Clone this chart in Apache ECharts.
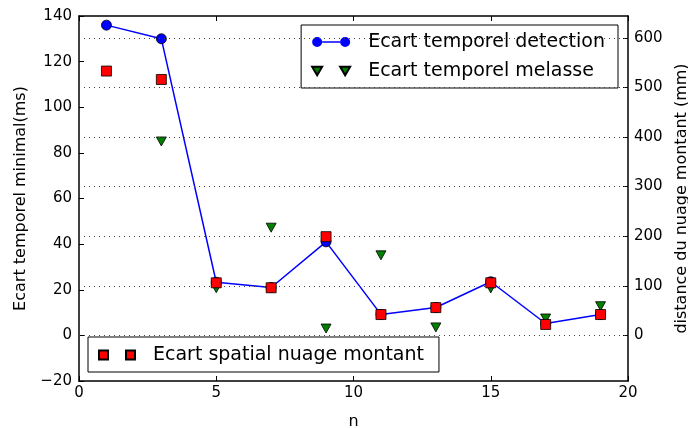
<!DOCTYPE html>
<html>
<head>
<meta charset="utf-8">
<script src="https://cdn.jsdelivr.net/npm/echarts@6/dist/echarts.min.js"></script>
<style>
  html, body { margin: 0; padding: 0; background: #fff; }
  #chart { width: 688px; height: 428px; }
</style>
</head>
<body>
<div id="chart"></div>
<script>
// data
const nValues = [1, 3, 5, 7, 9, 11, 13, 15, 17, 19];
const detection = [136, 130, 23.3, 21, 41, 9.2, 12.2, 23.5, 5.2, 9.2];     // ms
const melasse = [null, 85, 20.7, 47.2, 3, 35.1, 3.5, 20.6, 7.4, 12.8];     // ms
const spatial = [533, 516, 106, 96, 199, 42, 56, 106, 22, 42];             // mm
const xTicks = [0, 5, 10, 15, 20];
const leftTicks = [-20, 0, 20, 40, 60, 80, 100, 120, 140];
const rightTicks = [0, 100, 200, 300, 400, 500, 600];

const font = 'DejaVu Sans';
const minus = v => String(v).replace('-', '\u2212');
const pairs = vals => nValues.map((n, i) => [n, vals[i]]);

const chart = echarts.init(document.getElementById('chart'));

const option = {
    animation: false,
    backgroundColor: '#fff',
    textStyle: { fontFamily: font, color: '#000' },
    grid: { left: 79, right: 60, top: 16, bottom: 47, outerBoundsMode: 'none', containLabel: false },
    xAxis: [
        {
            type: 'value', min: xTicks[0], max: xTicks[xTicks.length - 1], interval: 5,
            name: 'n', nameLocation: 'middle', nameGap: 33,
            nameTextStyle: { fontSize: 16, fontFamily: font, color: '#000' },
            axisLine: { onZero: false, lineStyle: { color: '#000', width: 1.5 } },
            axisTick: { inside: true, length: 5, lineStyle: { color: '#000' } },
            axisLabel: { fontSize: 15, fontFamily: font, color: '#000', margin: 5, formatter: minus },
            splitLine: { show: false }
        },
        {
            type: 'value', position: 'top', min: 0, max: 20, interval: 5,
            axisLine: { onZero: false, lineStyle: { color: '#000', width: 1.5 } },
            axisTick: { inside: true, length: 5, lineStyle: { color: '#000' } },
            axisLabel: { show: false },
            splitLine: { show: false }
        }
    ],
    yAxis: [
        {
            type: 'value', min: leftTicks[0], max: leftTicks[leftTicks.length - 1], interval: 20,
            name: 'Ecart temporel minimal(ms)', nameLocation: 'middle', nameGap: 50, nameRotate: 90,
            nameTextStyle: { fontSize: 16, fontFamily: font, color: '#000' },
            axisLine: { onZero: false, lineStyle: { color: '#000', width: 1.5 } },
            axisTick: { inside: true, length: 5, lineStyle: { color: '#000' } },
            axisLabel: { fontSize: 15, fontFamily: font, color: '#000', margin: 7, formatter: minus },
            splitLine: { show: false }
        },
        {
            type: 'value', position: 'right', min: -92, max: 644,
            name: 'distance du nuage montant (mm)', nameLocation: 'middle', nameGap: 44, nameRotate: 90,
            nameTextStyle: { fontSize: 16, fontFamily: font, color: '#000' },
            axisLine: { onZero: false, lineStyle: { color: '#000', width: 1.5 } },
            axisTick: { inside: true, length: 5, lineStyle: { color: '#000' }, customValues: rightTicks },
            axisLabel: {
                fontSize: 15, fontFamily: font, color: '#000', margin: 6,
                customValues: rightTicks, formatter: minus
            },
            splitLine: { show: false }
        }
    ],
    legend: [
        {
            data: [
                {
                    name: 'Ecart temporel detection',
                    icon: 'path://M0,5a5,5 0 1,0 10,0a5,5 0 1,0 -10,0ZM10,4.3L28,4.3L28,5.7L10,5.7ZM28,5a5,5 0 1,0 10,0a5,5 0 1,0 -10,0Z',
                    itemStyle: { borderWidth: 0 }
                },
                { name: 'Ecart temporel melasse', icon: 'path://M0,0L10,0L5,8.5ZM28,0L38,0L33,8.5Z' }
            ],
            orient: 'vertical', right: 70, top: 25,
            backgroundColor: '#fff', borderColor: '#000', borderWidth: 1,
            padding: [6, 13, 6, 10], itemGap: 7,
            itemWidth: 38, itemHeight: 10,
            textStyle: { fontSize: 19, fontFamily: font, color: '#000', lineHeight: 22, padding: [0, 0, 0, 13] }
        },
        {
            data: [
                { name: 'Ecart spatial nuage montant', icon: 'path://M0,0L9,0L9,9L0,9ZM27,0L36,0L36,9L27,9Z' }
            ],
            orient: 'vertical', left: 88, top: 337,
            backgroundColor: '#fff', borderColor: '#000', borderWidth: 1,
            padding: [7, 15, 6, 10],
            itemWidth: 36, itemHeight: 9,
            textStyle: { fontSize: 19, fontFamily: font, color: '#000', lineHeight: 22, padding: [0, 0, 0, 13] }
        }
    ],
    series: [
        {
            // dotted grid lines follow the right-hand axis ticks
            name: 'grid', type: 'line', xAxisIndex: 0, yAxisIndex: 1, data: [],
            silent: true, z: 1,
            markLine: {
                silent: true, symbol: ['none', 'none'], label: { show: false },
                lineStyle: { color: '#444', width: 1, type: [1, 4] },
                data: rightTicks.map(v => ({ yAxis: v }))
            }
        },
        {
            name: 'Ecart temporel detection', type: 'line', z: 3,
            xAxisIndex: 0, yAxisIndex: 0,
            data: pairs(detection),
            symbol: 'circle', symbolSize: 10, showAllSymbol: true,
            lineStyle: { color: '#0000ff', width: 1.5 },
            itemStyle: { color: '#0000ff', borderColor: '#000', borderWidth: 0.8, opacity: 1 }
        },
        {
            name: 'Ecart temporel melasse', type: 'scatter', z: 4,
            xAxisIndex: 0, yAxisIndex: 0,
            data: pairs(melasse),
            symbol: 'triangle', symbolRotate: 180, symbolSize: [10, 9],
            itemStyle: { color: '#007f00', borderColor: '#000', borderWidth: 0.8, opacity: 1 }
        },
        {
            name: 'Ecart spatial nuage montant', type: 'scatter', z: 5,
            xAxisIndex: 0, yAxisIndex: 1,
            data: pairs(spatial),
            symbol: 'rect', symbolSize: 10,
            itemStyle: { color: '#ff0000', borderColor: '#000', borderWidth: 0.8, opacity: 1 }
        }
    ]
};

chart.setOption(option);
</script>
</body>
</html>
